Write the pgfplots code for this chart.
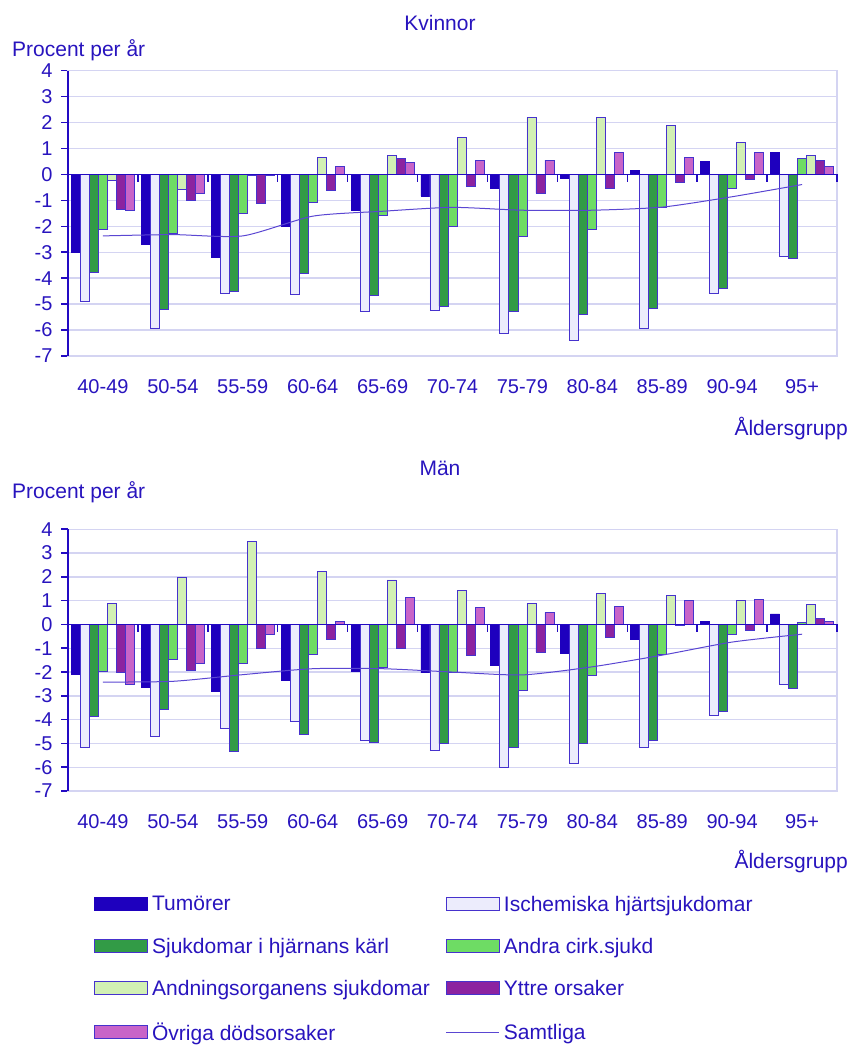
\documentclass[border=0pt]{standalone}
\usepackage{fontspec}
\setmainfont{Liberation Sans}
\usepackage{pgfplots}
\pgfplotsset{compat=1.18}
\definecolor{txt}{RGB}{40,20,190}
\definecolor{axc}{RGB}{35,10,195}
\definecolor{bord}{RGB}{70,50,205}
\definecolor{gridc}{RGB}{212,212,242}
\definecolor{cTum}{RGB}{30,0,190}
\definecolor{cIsch}{RGB}{236,236,252}
\definecolor{cDG}{RGB}{50,155,70}
\definecolor{cLG}{RGB}{110,220,100}
\definecolor{cPale}{RGB}{210,240,180}
\definecolor{cPur}{RGB}{140,35,160}
\definecolor{cOrc}{RGB}{200,100,200}
\definecolor{cLine}{RGB}{90,70,210}
\newcommand{\tfont}{\fontsize{20}{24}\selectfont}
\newcommand{\lfont}{\fontsize{21}{25}\selectfont}
\pgfplotsset{
  mybase/.style={
    scale only axis, width=769pt,
    xmin=-0.5, xmax=10.5, ymin=-7, ymax=4,
    axis line style={draw=gridc, line width=1.4pt},
    ytick={-7,-6,-5,-4,-3,-2,-1,0,1,2,3,4},
    yticklabels={-7,-6,-5,-4,-3,-2,-1,0,1,2,3,4},
    ymajorgrids, grid style={gridc, line width=1.4pt},
    xtick={0,1,2,3,4,5,6,7,8,9,10},
    xticklabels={40-49,50-54,55-59,60-64,65-69,70-74,75-79,80-84,85-89,90-94,95+},
    xtick style={draw=none},
    ytick style={draw=axc, line width=1.6pt},
    major tick length=7pt, tick align=outside,
    ytick pos=left, xtick pos=bottom,
    xticklabel style={font=\tfont, text=txt, yshift=-13pt},
    yticklabel style={font=\tfont, text=txt, xshift=-5pt},
    clip=false,
  },
  bs/.style={ybar, bar width=0.129, line width=0.8pt},
  barleg/.style={legend image code/.code={\draw[##1, line width=0.8pt] (0pt,-6pt) rectangle (53pt,7pt);}},
  lineleg/.style={legend image code/.code={\draw[##1] (0pt,0pt) -- (53pt,0pt);}},
}
\newcommand{\axisdeco}{%
  \draw[axc, line width=1.6pt] (axis cs:-0.5,0) -- (axis cs:10.5,0);
  \pgfplotsinvokeforeach{0.5,1.5,2.5,3.5,4.5,5.5,6.5,7.5,8.5,9.5,10.5}{%
    \draw[axc, line width=1.4pt] (axis cs:##1,0) -- ++(0pt,-8pt);}
  \draw[axc, line width=1.8pt] (rel axis cs:0,0) -- (rel axis cs:0,1);
}
\begin{document}
\begin{tikzpicture}
\path[use as bounding box] (0pt,0pt) rectangle (851pt,1046pt);

% ---------------- Kvinnor ----------------
\begin{axis}[mybase, height=285.3pt, at={(68pt,690pt)}, anchor=south west]
\addplot[bs, bar shift=-0.387, fill=cTum, draw=cTum] coordinates {
(0,-3.0) (1,-2.69) (2,-3.18) (3,-2.02) (4,-1.4) (5,-0.83) (6,-0.54) (7,-0.15) (8,0.17) (9,0.51) (10,0.86)};
\addplot[bs, bar shift=-0.258, fill=cIsch, draw=bord] coordinates {
(0,-4.89) (1,-5.95) (2,-4.6) (3,-4.61) (4,-5.3) (5,-5.24) (6,-6.14) (7,-6.4) (8,-5.95) (9,-4.6) (10,-3.15)};
\addplot[bs, bar shift=-0.129, fill=cDG, draw=bord] coordinates {
(0,-3.76) (1,-5.2) (2,-4.5) (3,-3.81) (4,-4.65) (5,-5.08) (6,-5.3) (7,-5.39) (8,-5.15) (9,-4.4) (10,-3.22)};
\addplot[bs, bar shift=0, fill=cLG, draw=bord] coordinates {
(0,-2.11) (1,-2.28) (2,-1.52) (3,-1.07) (4,-1.57) (5,-2.02) (6,-2.37) (7,-2.12) (8,-1.27) (9,-0.53) (10,0.6)};
\addplot[bs, bar shift=0.129, fill=cPale, draw=bord] coordinates {
(0,-0.22) (1,-0.58) (2,-0.03) (3,0.67) (4,0.72) (5,1.42) (6,2.2) (7,2.2) (8,1.9) (9,1.25) (10,0.72)};
\addplot[bs, bar shift=0.258, fill=cPur, draw=bord] coordinates {
(0,-1.34) (1,-0.99) (2,-1.13) (3,-0.63) (4,0.6) (5,-0.48) (6,-0.73) (7,-0.54) (8,-0.32) (9,-0.19) (10,0.55)};
\addplot[bs, bar shift=0.387, fill=cOrc, draw=bord] coordinates {
(0,-1.38) (1,-0.73) (2,-0.02) (3,0.32) (4,0.46) (5,0.55) (6,0.55) (7,0.85) (8,0.66) (9,0.85) (10,0.32)};
\addplot[cLine, line width=1pt, smooth, tension=0.4, mark=none] coordinates {
(0,-2.37) (1,-2.32) (2,-2.37) (3,-1.61) (4,-1.42) (5,-1.27) (6,-1.38) (7,-1.38) (8,-1.26) (9,-0.86) (10,-0.39)};
\axisdeco
\end{axis}

% ---------------- Män ----------------
\begin{axis}[mybase, height=261.7pt, at={(68pt,255pt)}, anchor=south west,
  legend columns=2, legend cell align=left,
  legend style={at={(0.034,-0.393)}, anchor=north west, draw=none, fill=none,
    font=\lfont, text=txt, row sep=21.5pt, inner sep=0pt,
    /tikz/column 1/.style={column sep=2pt},
    /tikz/column 2/.style={column sep=14pt},
    /tikz/column 3/.style={column sep=2pt}},
  barleg]
\addplot[bs, bar shift=-0.387, fill=cTum, draw=cTum] coordinates {
(0,-2.1) (1,-2.63) (2,-2.8) (3,-2.37) (4,-1.99) (5,-2.03) (6,-1.72) (7,-1.23) (8,-0.63) (9,0.13) (10,0.44)};
\addlegendentry{Tumörer}
\addplot[bs, bar shift=-0.258, fill=cIsch, draw=bord] coordinates {
(0,-5.17) (1,-4.69) (2,-4.37) (3,-4.08) (4,-4.86) (5,-5.31) (6,-6.0) (7,-5.83) (8,-5.18) (9,-3.83) (10,-2.52)};
\addlegendentry{Ischemiska hjärtsjukdomar}
\addplot[bs, bar shift=-0.129, fill=cDG, draw=bord] coordinates {
(0,-3.86) (1,-3.59) (2,-5.32) (3,-4.62) (4,-4.94) (5,-5.01) (6,-5.17) (7,-5.01) (8,-4.89) (9,-3.66) (10,-2.69)};
\addlegendentry{Sjukdomar i hjärnans kärl}
\addplot[bs, bar shift=0, fill=cLG, draw=bord] coordinates {
(0,-1.96) (1,-1.48) (2,-1.63) (3,-1.25) (4,-1.8) (5,-2.01) (6,-2.79) (7,-2.14) (8,-1.25) (9,-0.41) (10,0.07)};
\addlegendentry{Andra cirk.sjukd}
\addplot[bs, bar shift=0.129, fill=cPale, draw=bord] coordinates {
(0,0.9) (1,1.99) (2,3.5) (3,2.24) (4,1.87) (5,1.44) (6,0.89) (7,1.32) (8,1.21) (9,1.0) (10,0.83)};
\addlegendentry{Andningsorganens sjukdomar}
\addplot[bs, bar shift=0.258, fill=cPur, draw=bord] coordinates {
(0,-2.03) (1,-1.92) (2,-1.0) (3,-0.62) (4,-1.0) (5,-1.32) (6,-1.17) (7,-0.56) (8,-0.02) (9,-0.24) (10,0.24)};
\addlegendentry{Yttre orsaker}
\addplot[bs, bar shift=0.387, fill=cOrc, draw=bord] coordinates {
(0,-2.5) (1,-1.65) (2,-0.41) (3,0.14) (4,1.15) (5,0.72) (6,0.51) (7,0.77) (8,1.0) (9,1.05) (10,0.13)};
\addlegendentry{Övriga dödsorsaker}
\addplot[cLine, line width=1pt, smooth, tension=0.4, mark=none, lineleg] coordinates {
(0,-2.42) (1,-2.39) (2,-2.11) (3,-1.86) (4,-1.86) (5,-2.0) (6,-2.12) (7,-1.78) (8,-1.29) (9,-0.74) (10,-0.41)};
\addlegendentry{Samtliga}
\axisdeco
\end{axis}

% ---------------- texts ----------------
\node[anchor=base, text=txt, font=\lfont, inner sep=0pt] at (440pt,1015pt) {Kvinnor};
\node[anchor=base west, text=txt, font=\lfont, inner sep=0pt] at (12pt,989pt) {Procent per år};
\node[anchor=base east, text=txt, font=\lfont, inner sep=0pt] at (848pt,610pt) {Åldersgrupp};
\node[anchor=base, text=txt, font=\lfont, inner sep=0pt] at (440pt,570pt) {Män};
\node[anchor=base west, text=txt, font=\lfont, inner sep=0pt] at (12pt,547pt) {Procent per år};
\node[anchor=base east, text=txt, font=\lfont, inner sep=0pt] at (848pt,177pt) {Åldersgrupp};
\end{tikzpicture}
\end{document}
